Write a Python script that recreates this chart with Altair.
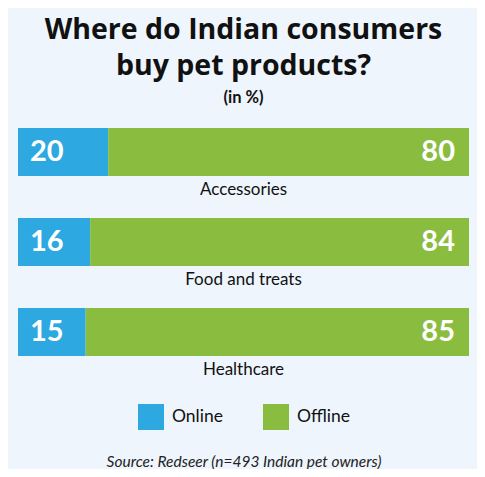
import pandas as pd
import altair as alt

# Data
categories = ["Accessories", "Food and treats", "Healthcare"]
online = [20, 16, 15]
offline = [80, 84, 85]
channels = ["Online", "Offline"]
colors = ["#2ea8e0", "#8abd3f"]

rows = []
for cat, on, off in zip(categories, online, offline):
    rows.append({"category": cat, "channel": "Online", "value": on, "order": 0})
    rows.append({"category": cat, "channel": "Offline", "value": off, "order": 1})
df = pd.DataFrame(rows)

FONT = "Lato"
TITLE_FONT = "Open Sans"

y_enc = alt.Y("category:N", sort=categories, axis=None,
              scale=alt.Scale(paddingInner=0.467, paddingOuter=0, align=0))

base = alt.Chart(df)

bars = base.mark_bar(size=48).encode(
    x=alt.X("value:Q", stack="zero", scale=alt.Scale(domain=[0, 100], nice=False),
            axis=alt.Axis(domain=False, labels=False, ticks=False, grid=False,
                          title="Source: Redseer (n=493 Indian pet owners)",
                          titleFont=FONT, titleFontSize=15.5, titleFontStyle="italic",
                          titleFontWeight="normal", titleColor="#222",
                          titlePadding=98)),
    y=y_enc,
    color=alt.Color("channel:N", scale=alt.Scale(domain=channels, range=colors),
                    legend=alt.Legend(title=None, orient="none", legendX=120, legendY=276,
                                      direction="horizontal", symbolType="square",
                                      symbolSize=676, symbolStrokeWidth=0,
                                      symbolOpacity=1, labelFont=FONT,
                                      labelFontSize=17.5, labelColor="#111",
                                      labelOffset=8, columnPadding=40)),
    order=alt.Order("order:Q"),
)

online_txt = base.transform_filter(alt.datum.channel == "Online").mark_text(
    align="left", baseline="middle", dx=12, font=FONT, fontSize=29,
    fontWeight="bold", color="white"
).encode(x=alt.X("zero:Q"), y=y_enc, text="value:Q").transform_calculate(zero="0")

offline_txt = base.transform_filter(alt.datum.channel == "Offline").mark_text(
    align="right", baseline="middle", dx=-14, font=FONT, fontSize=29,
    fontWeight="bold", color="white"
).encode(x=alt.X("full:Q"), y=y_enc, text="value:Q").transform_calculate(full="100")

cat_txt = base.transform_filter(alt.datum.channel == "Online").mark_text(
    align="center", baseline="middle", dy=38, font=FONT, fontSize=17, color="#111"
).encode(x=alt.X("mid:Q"), y=y_enc, text="category:N").transform_calculate(mid="50")

chart = alt.layer(bars, online_txt, offline_txt, cat_txt).properties(
    width=451,
    height=228,
    autosize=alt.AutoSizeParams(type="none"),
    padding={"left": 10, "top": 120, "right": 8, "bottom": 113},
    background="#eef5fc",
    title=alt.TitleParams(
        text=["Where do Indian consumers", "buy pet products?"],
        subtitle="(in %)",
        anchor="middle",
        font=TITLE_FONT, fontSize=28.5, fontWeight="bold", color="#111",
        lineHeight=36,
        subtitleFont=FONT, subtitleFontSize=16.5, subtitleFontWeight="bold",
        subtitleColor="#111", subtitlePadding=10,
        offset=21,
    ),
).configure_view(stroke=None)

chart.save("out.html", embed_options={"renderer": "svg", "actions": False})
